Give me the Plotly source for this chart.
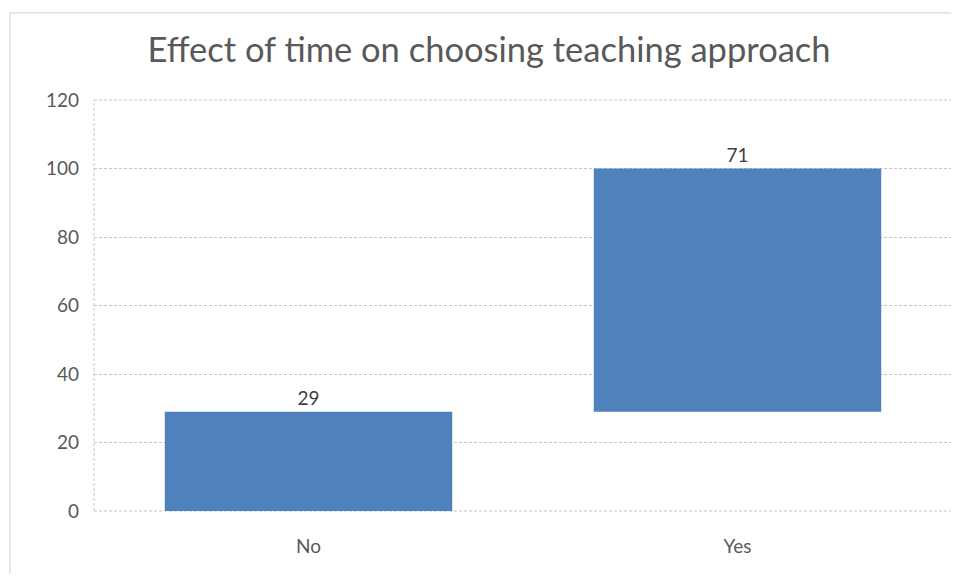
import plotly.graph_objects as go

# data
categories = ["No", "Yes"]
values = [29, 71]
measures = ["relative", "relative"]
y_ticks = [0, 20, 40, 60, 80, 100, 120]

BAR_COLOR = "#4f81bd"
TEXT_COLOR = "#595959"
GRID_COLOR = "#c4c4c4"
FONT = "Lato, Open Sans, sans-serif"

fig = go.Figure(go.Waterfall(
    x=categories,
    y=values,
    measure=measures,
    text=[str(v) for v in values],
    textposition="outside",
    textfont=dict(size=19, color="#404040", family=FONT),
    increasing=dict(marker=dict(color=BAR_COLOR, line=dict(width=0))),
    decreasing=dict(marker=dict(color=BAR_COLOR, line=dict(width=0))),
    connector=dict(visible=False),
    width=0.67,
    showlegend=False,
    cliponaxis=False,
))

# the page body has an 8px margin, so the figure is made smaller (no scrollbar)
# and the margins allow for the offset
fig.update_layout(
    width=951,
    height=566,
    paper_bgcolor="white",
    plot_bgcolor="white",
    margin=dict(l=86, r=7, t=92, b=63),
    title=dict(
        text="Effect of time on choosing teaching approach",
        xref="container", yref="container",
        x=0.5058, xanchor="center",
        y=0.9258, yanchor="middle",
        font=dict(size=34.5, color=TEXT_COLOR, family=FONT),
    ),
    font=dict(family=FONT, color=TEXT_COLOR),
    shapes=[
        # chart-area border (right edge runs off the page)
        dict(type="rect", xref="paper", yref="paper",
             x0=-0.098, x1=1.2, y0=-0.163, y1=1.212,
             line=dict(color="#d9d9d9", width=1.2), layer="below"),
        # dashed left axis line
        dict(type="line", xref="paper", yref="paper",
             x0=0, x1=0, y0=0, y1=1,
             line=dict(color=GRID_COLOR, width=1, dash="3px,2px"), layer="below"),
        # dashed bottom and top lines (grid lines at the range edges)
        dict(type="line", xref="paper", yref="paper",
             x0=0, x1=1, y0=0, y1=0,
             line=dict(color=GRID_COLOR, width=1, dash="3px,2px"), layer="below"),
        dict(type="line", xref="paper", yref="paper",
             x0=0, x1=1, y0=1, y1=1,
             line=dict(color=GRID_COLOR, width=1, dash="3px,2px"), layer="below"),
    ],
)

fig.update_xaxes(
    showgrid=False,
    showline=False,
    automargin=False,
    tickfont=dict(size=19, color=TEXT_COLOR),
    ticklabelstandoff=22,
)
fig.update_yaxes(
    range=[0, 120],
    tickvals=y_ticks,
    showgrid=True,
    gridcolor=GRID_COLOR,
    griddash="3px,2px",
    gridwidth=1,
    zeroline=False,
    showline=False,
    automargin=False,
    tickfont=dict(size=19, color=TEXT_COLOR),
    ticklabelstandoff=14,
)

fig.write_html("out.html")
